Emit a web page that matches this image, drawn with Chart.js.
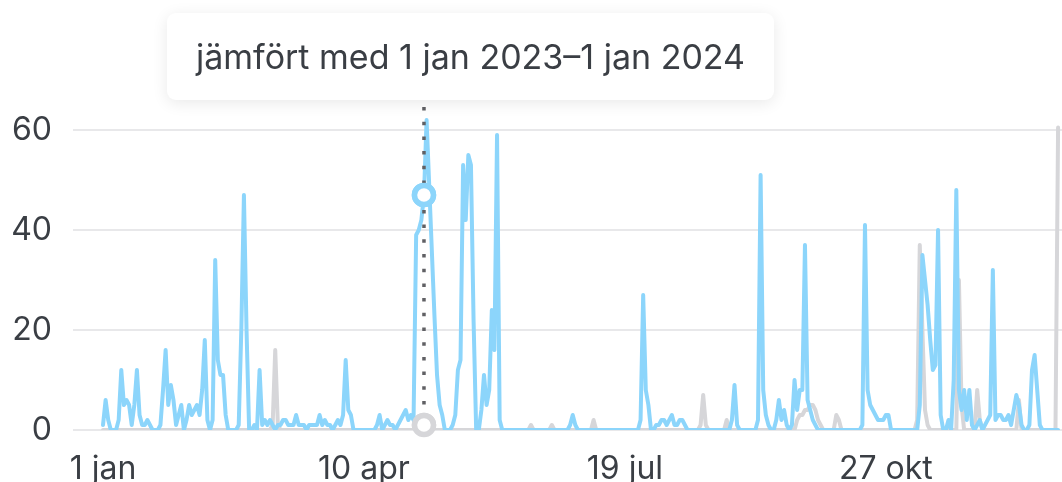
<!DOCTYPE html>
<html lang="sv">
<head>
<meta charset="utf-8">
<title>Jämförelse 2024 mot 2023</title>
<script src="https://cdn.jsdelivr.net/npm/chart.js@4.4.1/dist/chart.umd.min.js"></script>
<style>
  html, body { margin: 0; padding: 0; background: #fff; overflow: hidden; }
  #wrap { position: relative; width: 1062px; height: 482px; }
  #chart { position: absolute; left: 0; top: 0; }
  #tip {
    position: absolute; left: 167px; top: 13px; width: 607px; height: 87px;
    background: #fff; border-radius: 9px;
    box-shadow: 0 3px 16px rgba(0, 0, 0, 0.09);
    font: 34px Inter, sans-serif; color: #3a3e44;
    display: flex; align-items: center; justify-content: center;
  }
</style>
</head>
<body>
<div id="wrap">
  <canvas id="chart" width="1062" height="482"></canvas>
  <div id="tip"></div>
</div>
<script>
// 1 jan 2024 – 1 jan 2025, one value per day (a row per month)
const CURRENT = [
  1,6,2,0,0,0,2,12,5,6, 5,1,5,12,3,1,1,2,1,0, 0,0,1,8,16,5,9,6,1,3, 5,
  0,2,5,3,4,5,3,8,18,2, 0,2,34,14,11,11,3,0,0,0, 0,1,20,47,20,0,0,1,0,
  12,1,2,1,2,1,0,1,1,2, 2,1,1,1,3,1,1,1,0,1, 1,1,1,3,1,2,1,1,0,1, 2,
  1,3,14,4,3,0,0,0,0,0, 0,0,0,0,1,3,0,1,2,1, 1,0,1,2,3,4,2,3,2,39,
  40,42,47,62,49,36,23,11,5,3, 0,0,0,1,3,12,14,53,42,55, 53,22,0,0,4,11,5,8,24,16, 59,
  2,0,0,0,0,0,0,0,0,0, 0,0,0,0,0,0,0,0,0,0, 0,0,0,0,0,0,0,1,3,1,
  0,0,0,0,0,0,0,0,0,0, 0,0,0,0,0,0,0,0,0,0, 0,0,0,0,2,27,8,5,0,0, 1,
  1,2,2,1,2,3,1,1,2,2, 1,0,0,0,0,0,0,0,0,0, 0,0,0,0,0,0,0,0,2,9, 1,
  0,0,0,0,0,0,0,2,51,8, 3,1,0,0,2,6,2,4,1,0, 1,10,4,8,8,37,6,4,2,1,
  0,0,0,0,0,0,0,0,0,0, 0,0,0,0,0,0,0,1,41,8, 5,4,3,2,2,2,3,3,0,0, 0,
  0,0,0,0,0,0,0,0,5,35, 30,25,18,12,13,40,3,0,0,2, 0,10,48,8,4,8,2,8,1,0,
  1,2,0,1,2,3,32,2,3,3, 2,2,3,1,4,7,5,1,0,0, 1,12,15,8,1,0,0,0,0,0, 0,
  0
];

// 1 jan 2023 – 1 jan 2024, comparison period
const PREVIOUS = [
  0,0,0,0,0,0,0,0,0,0, 0,0,0,0,0,0,0,0,0,0, 0,0,0,0,0,0,0,0,0,0, 0,
  0,0,0,0,0,0,0,0,0,0, 0,0,0,0,0,0,0,0,0,0, 0,0,0,0,0,0,0,0,0,
  0,0,0,0,0,1,16,1,0,0, 0,0,0,0,0,0,0,0,0,0, 0,0,0,0,0,0,0,0,0,0, 0,
  0,0,0,0,0,0,0,0,0,0, 0,0,0,0,0,0,0,0,0,0, 0,0,0,0,0,0,0,0,0,0,
  0,0,1,0,0,0,0,0,0,0, 0,0,0,0,0,0,0,0,0,0, 0,0,0,0,0,0,0,0,0,0, 0,
  0,0,0,0,0,0,0,0,0,0, 0,0,1,0,0,0,0,0,0,0, 1,0,0,0,0,0,0,0,0,0,
  0,0,0,0,0,0,2,0,0,0, 0,0,0,0,0,0,0,0,0,0, 0,0,0,0,0,0,0,0,0,0, 0,
  0,0,0,0,0,0,0,0,0,0, 0,0,0,0,0,0,1,7,1,0, 0,0,0,0,0,0,2,0,0,0, 0,
  0,0,0,0,0,0,0,0,0,0, 0,0,0,0,0,0,0,0,0,0, 0,0,2,3,3,4,4,5,5,4,
  2,1,0,0,0,0,0,3,2,0, 0,0,0,0,0,0,0,0,0,0, 0,0,0,0,0,0,0,0,0,0, 0,
  0,0,0,0,0,0,0,2,37,20, 4,1,0,0,0,0,0,0,0,0, 0,0,0,30,5,0,0,0,0,0,
  8,2,0,0,0,0,0,0,0,0, 0,0,0,0,0,0,6,0,0,0, 0,0,0,0,0,0,0,0,0,0, 0,
  60.5
];

const TICK_DAYS = [0, 100, 200, 300];
const TICK_LABELS = ["1 jan", "10 apr", "19 jul", "27 okt"];
const Y_TICKS = [0, 20, 40, 60];
const HOVER_DAY = 123;
const COMPARE_TEXT = "jämfört med 1 jan 2023–1 jan 2024";

const BLUE = "#8cd5fb";
const GREY = "#d6d6d9";
const TEXT = "#3a3e44";
const FONT = "Inter, sans-serif";

document.getElementById("tip").textContent = COMPARE_TEXT;

const toPoints = (arr) => arr.map((v, i) => ({ x: i, y: v }));

const hoverRadius = (c) => (c.dataIndex === HOVER_DAY ? 9.5 : 0);

// dotted hover line, then the two hover points again on top of it
const hoverLine = {
  id: "hoverLine",
  afterDatasetsDraw(chart) {
    const { ctx, chartArea } = chart;
    const x = chart.scales.x.getPixelForValue(HOVER_DAY);
    ctx.save();
    ctx.setLineDash([3.5, 11.2]);
    ctx.lineDashOffset = 7.7;
    ctx.lineWidth = 3.5;
    ctx.strokeStyle = "#606064";
    ctx.beginPath();
    ctx.moveTo(x, chartArea.top);
    ctx.lineTo(x, chartArea.bottom);
    ctx.stroke();
    ctx.restore();
    const metas = chart.getSortedVisibleDatasetMetas();
    for (let i = metas.length - 1; i >= 0; i--) {
      const pt = metas[i].data[HOVER_DAY];
      if (pt) pt.draw(ctx, chartArea);
    }
  }
};

new Chart(document.getElementById("chart"), {
  type: "line",
  data: {
    datasets: [
      {
        label: "2024",
        data: toPoints(CURRENT),
        borderColor: BLUE,
        borderWidth: 4,
        pointRadius: hoverRadius,
        pointBackgroundColor: "#fff",
        pointBorderColor: BLUE,
        pointBorderWidth: 5.5,
        tension: 0
      },
      {
        label: "2023",
        data: toPoints(PREVIOUS),
        borderColor: GREY,
        borderWidth: 4,
        pointRadius: hoverRadius,
        pointBackgroundColor: "#fff",
        pointBorderColor: GREY,
        pointBorderWidth: 5.5,
        tension: 0
      }
    ]
  },
  options: {
    responsive: false,
    animation: false,
    events: [],
    layout: { padding: { top: 100, left: 0, right: 0, bottom: 0 } },
    elements: { line: { borderJoinStyle: "round", borderCapStyle: "round" } },
    plugins: { legend: { display: false }, tooltip: { enabled: false } },
    scales: {
      x: {
        type: "linear",
        min: -11.5,
        max: 367.5,
        afterBuildTicks: (s) => { s.ticks = TICK_DAYS.map((v) => ({ value: v })); },
        afterFit: (s) => { s.height = 52; },
        grid: { display: false },
        border: { display: false },
        ticks: {
          padding: 12,
          color: TEXT,
          maxRotation: 0,
          autoSkip: false,
          font: { family: FONT, size: 32 },
          callback: (v, i) => TICK_LABELS[i]
        }
      },
      y: {
        min: 0,
        max: 66,
        afterBuildTicks: (s) => { s.ticks = Y_TICKS.map((v) => ({ value: v })); },
        afterFit: (s) => { s.width = 73; },
        border: { display: false },
        grid: { color: "#e8e8ea", lineWidth: 2, drawTicks: false },
        ticks: {
          padding: 21,
          color: TEXT,
          font: { family: FONT, size: 32 }
        }
      }
    }
  },
  plugins: [hoverLine]
});
</script>
</body>
</html>
